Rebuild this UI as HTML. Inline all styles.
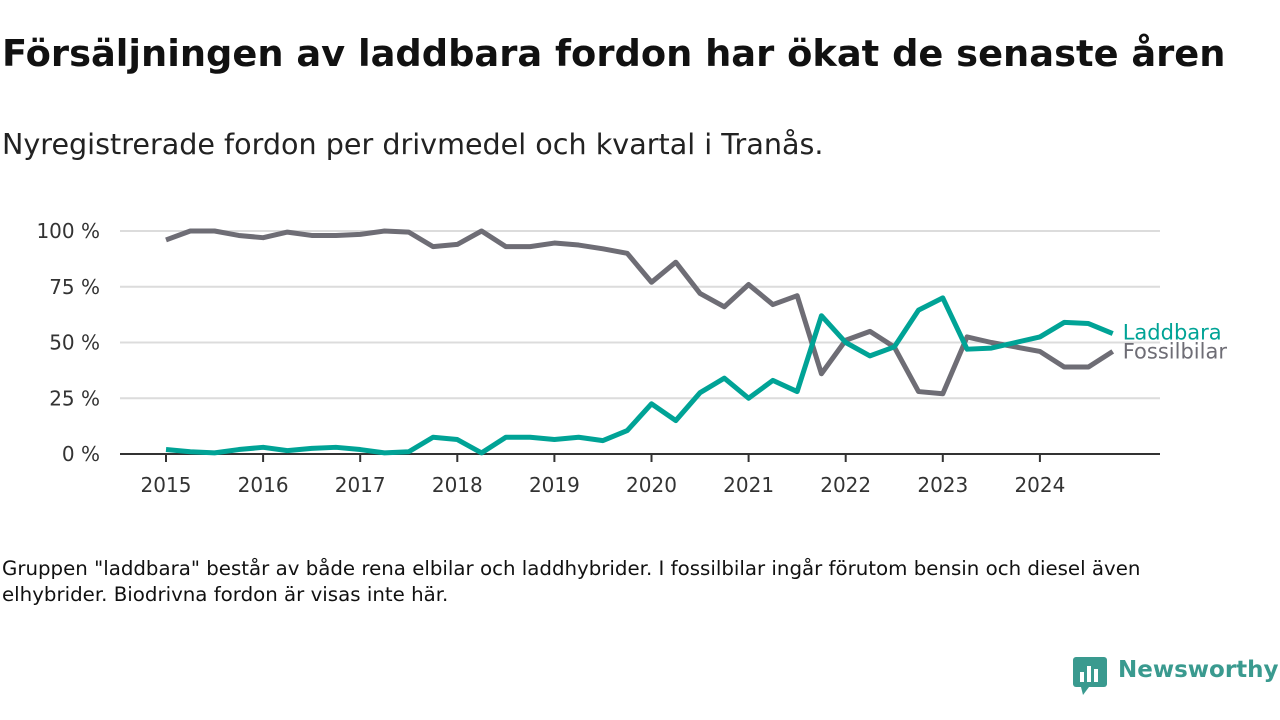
<!DOCTYPE html>
<html><head><meta charset="utf-8"><style>
body{margin:0;width:1280px;height:720px;background:#fff;font-family:"DejaVu Sans","Liberation Sans",sans-serif;overflow:hidden;position:relative;color:#111}
.t{position:absolute;left:2px;top:32px;font-size:36.8px;font-weight:bold;white-space:nowrap}
.s{position:absolute;left:2px;top:127px;font-size:28.6px;color:#222;white-space:nowrap}
.n{position:absolute;left:2px;top:556px;font-size:19.8px;line-height:26px;width:1215px;color:#111}
.logo{position:absolute;left:1118px;top:657px;font-size:23px;font-weight:bold;color:#3a9a8f;white-space:nowrap}
</style></head><body>
<div class="t">Försäljningen av laddbara fordon har ökat de senaste åren</div>
<div class="s">Nyregistrerade fordon per drivmedel och kvartal i Tranås.</div>
<svg id="c" width="1280" height="720" style="position:absolute;left:0;top:0;font-family:'DejaVu Sans',sans-serif"></svg>
<div class="n">Gruppen "laddbara" består av både rena elbilar och laddhybrider. I fossilbilar ingår förutom bensin och diesel även elhybrider. Biodrivna fordon är visas inte här.</div>
<svg style="position:absolute;left:1073px;top:657px" width="36" height="40"><rect x="0" y="0" width="34" height="30" rx="3" fill="#3a9a8f"/><polygon points="8,30 16,30 10,38" fill="#3a9a8f"/><rect x="7" y="15" width="4" height="10" fill="#fff"/><rect x="14" y="9" width="4" height="16" fill="#fff"/><rect x="21" y="12" width="4" height="13" fill="#fff"/></svg>
<div class="logo">Newsworthy</div>
<script>
const years=["2015","2016","2017","2018","2019","2020","2021","2022","2023","2024"];
const yTicks=[0,25,50,75,100];
const fossil=[96,100,100,98, 97,99.5,98,98, 98.5,100,99.5,93, 94,100,93,93, 94.6,93.7,92,90, 77,86,72,66, 76,67,71,36, 51,55,48,28, 27,52.5,50,48, 46,39,39,46];
const laddbara=[2,1,0.5,2, 3,1.5,2.5,3, 2,0.5,1,7.5, 6.5,0.5,7.5,7.5, 6.5,7.5,6,10.5, 22.5,15,27.5,34, 25,33,28,62, 50,44,48,64.5, 70,47,47.5,50, 52.5,59,58.5,54];
const svg=document.getElementById('c');const NS='http://www.w3.org/2000/svg';
const x0=166,yr=97.1,yb=454,yt=231;
const X=i=>x0+i*yr/4;const Y=v=>yb-(v/100)*(yb-yt);
function mk(t,a){const e=document.createElementNS(NS,t);for(const k in a)e.setAttribute(k,a[k]);svg.appendChild(e);return e;}
yTicks.forEach(v=>{
 if(v>0){const g=mk('line',{x1:120,x2:1160,y1:Y(v),y2:Y(v),stroke:'#dcdcdc','stroke-width':2});
 
 }
 const t=mk('text',{x:100,y:Y(v)+7,'text-anchor':'end','font-size':20,fill:'#333'});t.textContent=v+' %';
 
 
});
const ax=mk('line',{x1:120,x2:1160,y1:yb,y2:yb,stroke:'#333','stroke-width':2});


years.forEach((y,i)=>{const xx=X(i*4);
 const tk=mk('line',{x1:xx,x2:xx,y1:yb,y2:yb+8,stroke:'#333','stroke-width':2});
 
 
 const t=mk('text',{x:xx,y:yb+38,'text-anchor':'middle','font-size':20,fill:'#333'});t.textContent=y;
 
 
});
function line(d,c,n){const p=mk('polyline',{points:d.map((v,i)=>X(i)+','+Y(v)).join(' '),fill:'none',stroke:c,'stroke-width':5,'stroke-linejoin':'round'});
 
 }
line(fossil,'#6e6d75','fossilbilar-line');
line(laddbara,'#00a396','laddbara-line');
const l1=mk('text',{x:X(laddbara.length-1)+10,y:Y(laddbara[laddbara.length-1])+6,'font-size':21,fill:'#00a396'});l1.textContent='Laddbara';


const l2=mk('text',{x:X(fossil.length-1)+10,y:Y(fossil[fossil.length-1])+7,'font-size':21,fill:'#6e6d75'});l2.textContent='Fossilbilar';


</script>
</body></html>
